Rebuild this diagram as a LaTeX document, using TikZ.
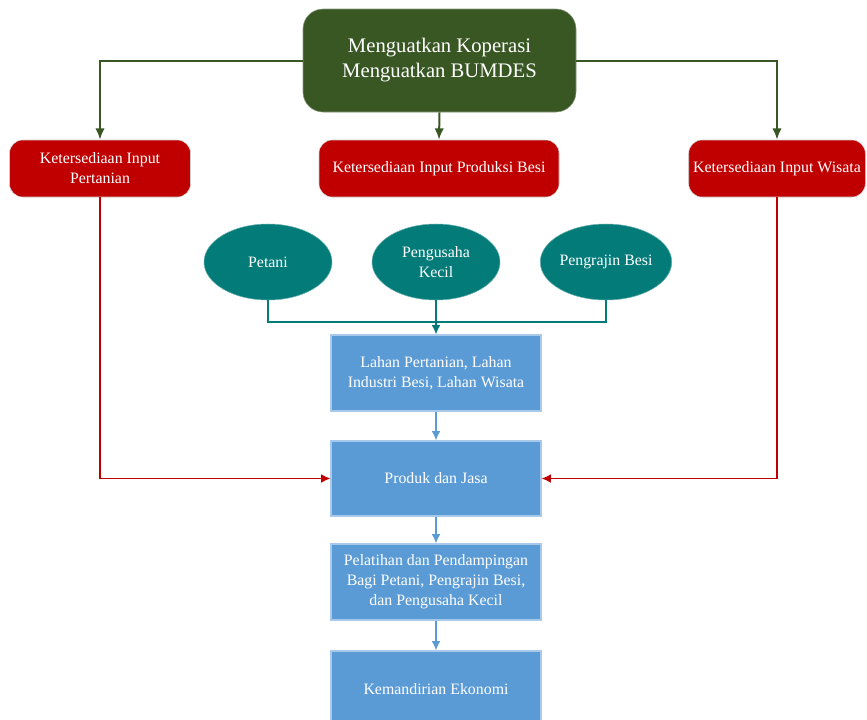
\documentclass[tikz,border=0pt]{standalone}
\usepackage{fontspec}
\setmainfont{Liberation Serif}
\usetikzlibrary{arrows.meta,shapes.geometric}
\definecolor{koopgreen}{HTML}{385723}
\definecolor{inputred}{HTML}{C00000}
\definecolor{actorteal}{HTML}{037B78}
\definecolor{flowblue}{HTML}{5B9BD5}
\definecolor{flowedge}{HTML}{A9C9EA}

\begin{document}
\begin{tikzpicture}[x=0.75pt,y=-0.75pt,
  topbox/.style={draw=koopgreen!60!white,fill=koopgreen,text=white,rounded corners=15pt,
    minimum width=204.75pt,minimum height=77.25pt,align=center,font=\fontsize{15.5}{18.8}\selectfont},
  inbox/.style={draw=gray!40,fill=inputred,text=white,rounded corners=10pt,
    minimum height=42.75pt,align=center,font=\fontsize{11.9}{15}\selectfont},
  actor/.style={ellipse,draw=actorteal!60!white,fill=actorteal,text=white,
    minimum width=96pt,minimum height=57pt,inner sep=0pt,align=center,font=\fontsize{11.9}{15}\selectfont},
  flowbox/.style={draw=flowedge,line width=0.8pt,fill=flowblue,text=white,
    minimum width=157.5pt,minimum height=57pt,align=center,font=\fontsize{11.9}{15}\selectfont},
  greenarrow/.style={-{Latex[length=8.5pt,width=7pt]},line width=1.5pt,koopgreen},
  redarrow/.style={-{Latex[length=7pt,width=6.5pt]},line width=1pt,inputred},
  tealline/.style={line width=1.1pt,actorteal},
  bluearrow/.style={-{Latex[length=7pt,width=6.5pt]},line width=1.1pt,flowblue}]
\useasboundingbox (0,0) rectangle (867,719);
\clip (0,0) rectangle (867,719);

% lembaga
\node[topbox] (top) at (439.5,60.5) {Menguatkan Koperasi\\Menguatkan BUMDES};

% ketersediaan input
\node[inbox,minimum width=135.75pt] (ktpert) at (100,168.5) {Ketersediaan Input\\Pertanian};
\node[inbox,minimum width=180pt] (ktbesi) at (439,168.5) {Ketersediaan Input Produksi Besi};
\node[inbox,minimum width=132pt] (ktwis) at (777,168.5) {Ketersediaan Input Wisata};

% pelaku
\node[actor] (petani) at (268,262) {Petani};
\node[actor] (pengusaha) at (436,262) {Pengusaha\\Kecil};
\node[actor] (pengrajin) at (606,262) {Pengrajin Besi};

% alur
\node[flowbox] (lahan) at (436,373) {Lahan Pertanian, Lahan\\Industri Besi, Lahan Wisata};
\node[flowbox,minimum height=56.25pt] (produk) at (436,478.5) {Produk dan Jasa};
\node[flowbox] (latih) at (436,582) {Pelatihan dan Pendampingan\\Bagi Petani, Pengrajin Besi,\\dan Pengusaha Kecil};
\node[flowbox] (mandiri) at (436,689) {Kemandirian Ekonomi};

\coordinate (hub) at (436,322);

\draw[greenarrow] (top.west) -| (ktpert.north);
\draw[greenarrow] (top.south) -- (ktbesi.north);
\draw[greenarrow] (top.east) -| (ktwis.north);

\draw[redarrow] (ktpert.south) |- (produk.west);
\draw[redarrow] (ktwis.south) |- (produk.east);

\draw[tealline] (petani.south) |- (hub) -| (pengrajin.south);
\draw[tealline,-{Latex[length=7pt,width=6.5pt]}] (pengusaha.south) -- (lahan.north);

\draw[bluearrow] (lahan.south) -- (produk.north);
\draw[bluearrow] (produk.south) -- (latih.north);
\draw[bluearrow] (latih.south) -- (mandiri.north);
\end{tikzpicture}
\end{document}
